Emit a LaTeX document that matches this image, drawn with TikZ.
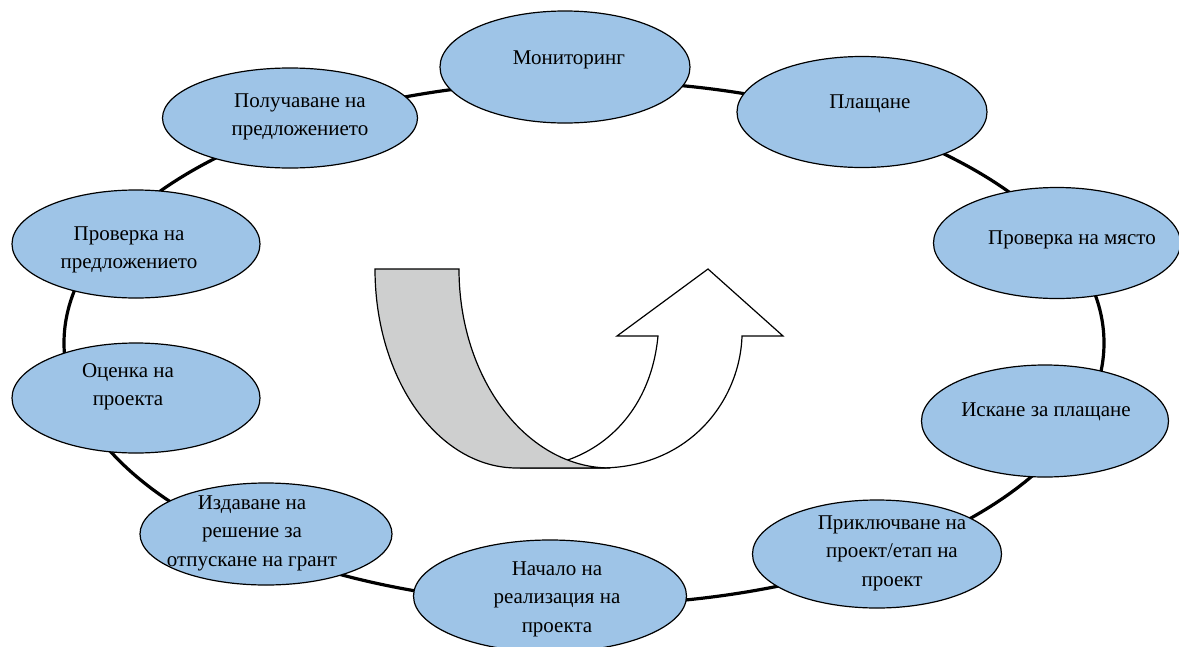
\documentclass[tikz,border=0pt]{standalone}
\usepackage{fontspec}
\setmainfont{Liberation Serif}
\usetikzlibrary{shapes.geometric}
\definecolor{stageblue}{RGB}{158,196,231}
\definecolor{backgray}{RGB}{206,207,207}
\tikzset{
	stage/.style={ellipse, draw=black, line width=1.2pt, fill=stageblue, inner sep=0pt},
	caption/.style={align=center, font=\fontsize{21}{28.5}\selectfont, inner sep=0pt},
	turn/.style={draw=black, line width=1.2pt, line join=miter}
}
\begin{document}
\begin{tikzpicture}[x=1pt,y=-1pt]
	\useasboundingbox (0,0) rectangle (1179,646);

	%ring
	\coordinate (ring) at (584,343);
	\draw[line width=3.2pt] (ring) ellipse (520 and 262);

	%turn arrow
	\draw[turn,fill=white] (600,468) .. controls (690,468) and (740,400) .. (742,336)
		-- (783,336) -- (708,269) -- (617,336) -- (658,336)
		.. controls (650,420) and (590,468) .. (520,468) -- cycle;	%front
	\draw[turn,fill=backgray] (375,269) -- (459,269)
		.. controls (459,379) and (527,468) .. (610,468) -- (517,468)
		.. controls (438,468) and (375,379) .. (375,269) -- cycle;	%back

	%stages
	\node[stage, minimum width=250pt, minimum height=112pt] (mon) at (565,67) {};		%top
	\node[caption] (mon-txt) at (569,60) {Мониторинг};
	\node[stage, minimum width=250pt, minimum height=111pt] (pay) at (862,112) {};
	\node[caption] (pay-txt) at (870,104) {Плащане};
	\node[stage, minimum width=247pt, minimum height=111pt] (site) at (1057,243) {};	%right
	\node[caption] (site-txt) at (1072,240) {Проверка на място};
	\node[stage, minimum width=247pt, minimum height=112pt] (req) at (1045,421) {};
	\node[caption] (req-txt) at (1046,412) {Искане за плащане};
	\node[stage, minimum width=249pt, minimum height=108pt] (close) at (877,554) {};
	\node[caption] (close-txt) at (892,553) {Приключване на\\проект/етап на\\проект};
	%
	\node[stage, minimum width=273pt, minimum height=112pt] (start) at (550,596) {};	%bottom
	\node[caption] (start-txt) at (557,599) {Начало на\\реализация на\\проекта};
	\node[stage, minimum width=252pt, minimum height=102pt] (grant) at (266,534) {};
	\node[caption] (grant-txt) at (252,533) {Издаване на\\решение за\\отпускане на грант};
	\node[stage, minimum width=248pt, minimum height=110pt] (eval) at (136,398) {};		%left
	\node[caption] (eval-txt) at (128,387) {Оценка на\\проекта};
	\node[stage, minimum width=248pt, minimum height=108pt] (check) at (136,244) {};
	\node[caption] (check-txt) at (129,250) {Проверка на\\предложението};
	\node[stage, minimum width=255pt, minimum height=100pt] (recv) at (290,118) {};
	\node[caption] (recv-txt) at (300,117) {Получаване на\\предложението};
\end{tikzpicture}
\end{document}
